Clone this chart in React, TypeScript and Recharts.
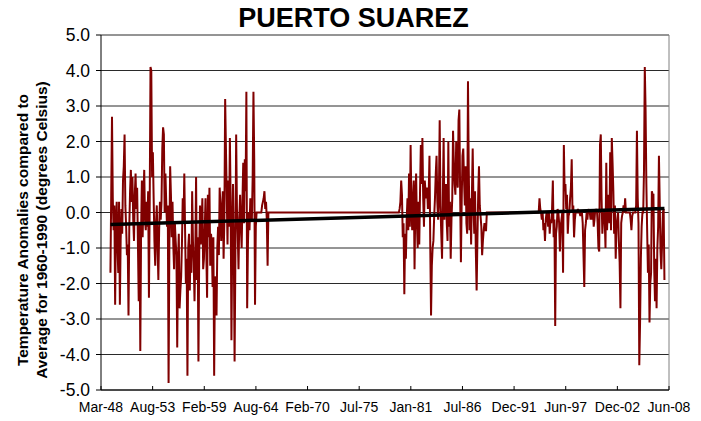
import React from "react";
import { LineChart, Line, XAxis, YAxis, CartesianGrid, ReferenceLine } from "recharts";

const chartTitle = "PUERTO SUAREZ";
const yTitleLine1 = "Temperature Anomalies compared to";
const yTitleLine2 = "Average for 1960-1990 (degrees Celsius)";

// x axis: months counted from Mar-48; Excel date axis with a 2000-day major unit
const xTickLabels = ["Mar-48", "Aug-53", "Feb-59", "Aug-64", "Feb-70", "Jul-75", "Jan-81", "Jul-86", "Dec-91", "Jun-97", "Dec-02", "Jun-08"];
const monthsPerTick = 65.71;
const yTicks = [-5, -4, -3, -2, -1, 0, 1, 2, 3, 4, 5];

// monthly anomalies, first record period (starting 12 months after Mar-48)
const seg1Start = 12;
const seg1Values = [
  -1.7, 0.5, 2.7, 0.4, -0.5, 0.2, -2.6, -0.3, 0.3, -1.0,
  -1.7, 0.3, -2.6, -0.8, 0.1, -0.6, 0.9, 1.3, 2.2, 0.2,
  -0.4, -1.2, -0.9, -2.9, -0.4, 0.6, 1.2, 0.3, 1.0, -0.2,
  -0.8, 0.5, 1.1, 0.1, 0.7, -0.9, -2.5, -0.3, -3.9, -0.6,
  0.9, -0.7, 0.4, 1.2, -0.2, -0.5, 0.3, -0.4, 0.6, -2.4,
  0.3, 4.1, 4.0, 1.0, 1.7, 0.4, -0.8, -1.5, -0.3, 0.2,
  -1.0, -1.9, -0.5, 0.3, -0.2, 0.3, 1.8, 2.4, 2.2, 0.0,
  1.1, 0.3, -0.4, 0.2, -4.8, -0.9, 1.3, 0.5, -0.7, 0.3,
  -0.9, -1.6, -0.3, -0.8, -1.2, -3.8, -1.4, -0.6, -2.7, -2.2,
  -1.8, -0.9, 0.4, -0.3, 1.1, -0.5, -2.0, -1.3, -4.6, -1.0,
  -0.6, -2.2, -0.9, -1.7, 0.6, -0.8, -1.4, -2.5, -1.2, 1.0,
  -1.9, -0.7, -4.2, -1.1, 0.2, -0.9, -0.3, 0.4, -1.6, -1.3,
  -0.5, 0.4, -1.1, -2.4, 0.5, -0.7, 0.7, -1.5, -0.6, -0.9,
  -2.1, -0.7, -4.6, -1.8, -2.3, -2.9, -1.0, -0.4, -1.2, 0.7,
  0.2, -0.8, 0.0, 0.6, -1.3, -0.2, 3.2, 1.8, 0.5, -0.9,
  0.9, -0.4, 2.1, 0.3, -3.6, -0.8, 0.8, -1.0, -4.2, -1.3,
  2.2, 0.1, -0.6, -1.6, -0.2, 0.5, -0.4, -1.0, 0.3, 1.4,
  -0.3, 1.5, 0.6, 3.4, -2.7, -0.9, 0.0, -0.5, 0.4, 0.2,
  -0.2, 1.0, 3.4, 1.5, -2.6, -0.4, 0.0, 0.0, 0.0, 0.0,
  0.0, 0.0, 0.0, 0.2, 0.3, 0.4, 0.6, 0.1, 0.3, -0.2, -1.5,
];

const seg2Start = 380;
const seg2Values = [
  0.1, 0.3, 0.9, 0.5, -0.7, -0.3, -2.3, -0.6, -1.3, -0.2,
  0.4, -0.5, 1.1, -0.4, 1.9, 0.2, -0.5, 0.4, 0.9, -1.6,
  0.2, 1.1, -0.3, -1.0, 0.3, -0.9, 0.6, 1.9, 0.8, 2.1,
  0.4, -0.4, 0.9, 0.6, 0.4, 0.7, 0.1, 0.5, 1.6, -0.9,
  -2.9, -1.5, -1.0, -0.8, -0.1, 0.4, 1.1, 1.6, 0.3, -0.2,
  0.5, 2.6, 0.2, -0.6, -1.3, 0.4, 2.1, -0.2, 0.6, 0.8,
  -0.3, -0.8, 2.0, -0.4, 0.3, -1.3, -0.2, 0.4, 2.3, 1.4,
  0.8, 0.5, 2.0, 1.0, 0.7, 2.6, 2.9, 0.6, -1.4, 0.3,
  1.6, 1.8, 0.9, 0.2, 1.3, -0.3, -0.6, 3.7, 1.2, -0.5,
  0.4, -0.9, 0.5, 1.8, 0.2, -0.6, 0.6, -1.1, -2.2, -0.8,
  0.5, 1.3, 0.2, -0.1, -0.4, -1.2, -0.8, -0.5, -0.3, -0.5, -0.5,
];

const seg3Start = 558;
const seg3Values = [
  0.4, 0.1, 0.0, -0.2, 0.0, -0.5, -0.3, -0.8, -0.2, 0.0,
  -0.1, -0.4, 0.0, -0.6, -0.2, -0.3, 0.1, 0.9, -0.7, -0.2,
  -3.2, -0.6, -0.4, 0.1, 0.0, -0.3, -1.1, -0.4, -0.2, 0.0,
  -1.7, 1.9, 0.6, 0.8, 0.1, 0.5, -0.6, -0.1, 0.0, 0.4,
  0.7, 1.5, 0.0, 0.2, -0.7, -0.2, 0.0, 0.0, 0.0, 0.1,
  0.0, 0.0, -0.1, 0.0, 0.0, -0.3, -1.2, -2.1, -0.5, -0.3,
  0.0, -0.2, 0.1, 0.0, 0.0, -0.2, 0.0, -0.2, 0.1, -0.4,
  -0.2, 0.1, 0.0, 0.1, -0.3, -1.0, -1.1, 1.9, 2.2, 0.4,
  -0.6, -0.1, 0.0, -0.2, -1.0, 1.4, -0.5, 0.2, 0.5, -0.3,
  1.7, -0.5, 2.1, 1.4, 0.6, -0.6, 0.2, -1.3, -0.4, -0.2,
  0.0, -0.8, -1.4, -2.7, -0.3, -0.1, 0.0, 0.2, 0.0, 0.4,
  0.0, 0.0, 0.0, 0.0, 0.0, 0.0, -0.2, -0.5, -0.1, 0.0,
  0.0, 0.0, 0.0, 0.2, 2.3, 0.4, -0.3, -4.3, -3.1, -1.3,
  -0.4, 0.0, 0.0, 1.2, 4.1, 2.9, 0.8, -0.5, -1.7, -0.9,
  -3.1, -2.0, -1.7, 0.6, 0.5, 0.5, -1.6, -2.5, -1.3, -2.7,
  -1.0, -0.4, 1.6, 0.3, -1.1, -1.6, -0.9, 0.0, 0.1, -1.9,
];

// months without records, plotted as zero (first and last month of each gap)
const gapRanges = [
  [213, 379],
  [491, 557],
];
const gapValue = 0;

// linear trend line end points
const trendMonths = [12, 717];
const trendValues = [-0.34, 0.11];

const seriesColor = "#800000";
const fontFamily = "'Liberation Sans', Arial, sans-serif";

function buildSeries() {
  const pts: { m: number; v: number }[] = [];
  const addSeg = (start: number, vals: number[]) => vals.forEach((v, i) => pts.push({ m: start + i, v }));
  addSeg(seg1Start, seg1Values);
  addSeg(seg2Start, seg2Values);
  addSeg(seg3Start, seg3Values);
  gapRanges.forEach(([a, b]) => {
    pts.push({ m: a, v: gapValue });
    pts.push({ m: b, v: gapValue });
  });
  pts.sort((a, b) => a.m - b.m);
  return pts;
}

const series = buildSeries();
const trend = trendMonths.map((m, i) => ({ m, t: trendValues[i] }));
const xTicks = xTickLabels.map((_, i) => i * monthsPerTick);
const xMax = xTicks[xTicks.length - 1];

export default function App() {
  return (
    <div style={{ position: "relative", width: 693, height: 413, fontFamily }}>
      <div
        style={{
          position: "absolute",
          left: 0,
          top: -3,
          width: 693,
          textAlign: "center",
          fontSize: 27,
          lineHeight: "27px",
          fontWeight: "bold",
          color: "#000",
        }}
      >
        <span style={{ position: "relative", left: -1 }}>{chartTitle}</span>
      </div>
      <div
        style={{
          position: "absolute",
          left: 24 - 170,
          top: 222 - 19,
          width: 340,
          height: 38,
          transform: "rotate(-90deg)",
          transformOrigin: "50% 50%",
          textAlign: "center",
          fontSize: 15.5,
          lineHeight: "19px",
          fontWeight: "bold",
          color: "#000",
          whiteSpace: "nowrap",
        }}
      >
        <div>{yTitleLine1}</div>
        <div>{yTitleLine2}</div>
      </div>
      <LineChart width={693} height={413} margin={{ top: 27, right: 32, bottom: 6, left: 33 }}>
        <CartesianGrid horizontal={true} vertical={false} stroke="#2a2a2a" strokeWidth={1} />
        <XAxis
          type="number"
          dataKey="m"
          domain={[0, xMax]}
          ticks={xTicks}
          interval={0}
          allowDataOverflow
          height={25}
          tickFormatter={(v: number) => xTickLabels[Math.round(v / monthsPerTick)]}
          tick={{ fill: "#000", fontSize: 14, fontFamily }}
          tickSize={-4}
          tickMargin={16}
          axisLine={{ stroke: "#000" }}
          tickLine={{ stroke: "#000" }}
        />
        <YAxis
          type="number"
          domain={[-5, 5]}
          ticks={yTicks}
          interval={0}
          width={60}
          tickFormatter={(v: number) => v.toFixed(1)}
          tick={{ fill: "#000", fontSize: 17.5, fontFamily }}
          tickSize={5}
          tickMargin={6}
          axisLine={{ stroke: "#000" }}
          tickLine={{ stroke: "#000" }}
        />
        <ReferenceLine x={xMax} stroke="#808080" strokeWidth={1} />
        <Line
          data={series}
          dataKey="v"
          type="linear"
          stroke={seriesColor}
          strokeWidth={2}
          dot={false}
          activeDot={false}
          isAnimationActive={false}
        />
        <Line
          data={trend}
          dataKey="t"
          type="linear"
          stroke="#000"
          strokeWidth={3.5}
          dot={false}
          activeDot={false}
          isAnimationActive={false}
        />
      </LineChart>
    </div>
  );
}
